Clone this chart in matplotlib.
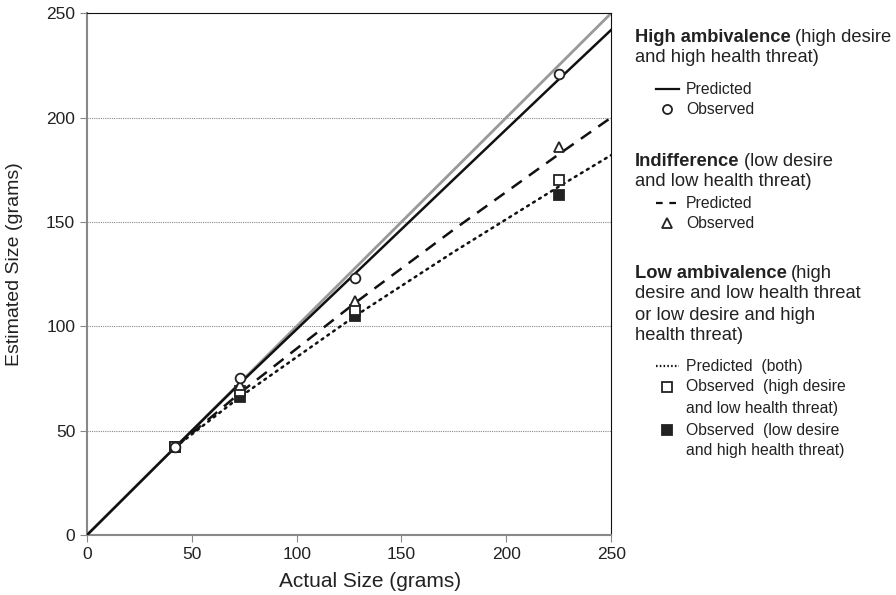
import matplotlib
matplotlib.use("Agg")
import matplotlib.pyplot as plt
from matplotlib.lines import Line2D

plt.rcParams['font.family'] = ['Liberation Sans', 'DejaVu Sans']

# 實際大小 (grams)
actual = [42, 73, 128, 225]
# 觀察值
obs_high_amb = [42, 75, 123, 221]
obs_indiff = [42, 72, 112, 186]
obs_low_hd = [42, 69, 108, 170]
obs_low_ht = [42, 66, 105, 163]
# 預測線 (從圖上讀出的點)
identity_x = [0, 250]
identity_y = [0, 250]
high_amb_x = [0, 42, 73, 128, 175, 225, 250]
high_amb_y = [0, 42, 72.7, 125.4, 170.5, 218.3, 242]
indiff_x = [42, 73, 128, 175, 225, 250]
indiff_y = [42, 68.1, 111.3, 146.4, 182.4, 200]
low_x = [42, 73, 128, 175, 225, 250]
low_y = [42, 66.2, 105, 135.7, 166.9, 182]

ticks = [0, 50, 100, 150, 200, 250]

fig = plt.figure(figsize=(8.96, 5.95), dpi=100)
ax = fig.add_axes([0.0971, 0.1008, 0.585, 0.877])

for y in ticks[1:-1]:
    ax.axhline(y, color='#888888', linestyle=(0, (1, 1)), linewidth=0.8, zorder=1)

ax.plot(identity_x, identity_y, color='#999999', linewidth=2, zorder=2)
ax.plot(high_amb_x, high_amb_y, color='#111111', linewidth=1.8, zorder=3)
ax.plot(indiff_x, indiff_y, color='#111111', linewidth=1.8, linestyle=(0, (5, 3.5)), zorder=3)
ax.plot(low_x, low_y, color='#111111', linewidth=1.8, linestyle=(0, (0.8, 2)),
        dash_capstyle='round', zorder=3)

mk = dict(linestyle='none', markersize=7, markeredgewidth=1.3, zorder=4)
ax.plot(actual, obs_low_ht, marker='s', color='#222222', markerfacecolor='#222222', **mk)
ax.plot(actual, obs_low_hd, marker='s', color='#222222', markerfacecolor='white', **mk)
ax.plot(actual, obs_indiff, marker='^', color='#222222', markerfacecolor='white', **mk)
ax.plot(actual, obs_high_amb, marker='o', color='#222222', markerfacecolor='white', **mk)

ax.set_xlim(0, 250)
ax.set_ylim(0, 250)
ax.set_xticks(ticks)
ax.set_yticks(ticks)
ax.tick_params(labelsize=12.5, direction='out', length=5, color='#888888', labelcolor='#222222')
ax.set_xlabel('Actual Size (grams)', fontsize=15, color='#222222')
ax.set_ylabel('Estimated Size (grams)', fontsize=14, color='#222222')
ax.xaxis.set_label_coords(0.54, -0.071)
ax.yaxis.set_label_coords(-0.122, 0.52)
ax.spines['left'].set_color('#888888')
ax.spines['bottom'].set_color('#888888')
ax.spines['left'].set_linewidth(1.5)
ax.spines['bottom'].set_linewidth(1.5)
ax.spines['top'].set_color('#111111')
ax.spines['right'].set_color('#111111')

# 圖例 (右側文字)
fig.canvas.draw()
renderer = fig.canvas.get_renderer()
W, H = fig.bbox.width, fig.bbox.height
TXT = '#222222'


def heading(x, y, bold, rest, size=13.2):
    t = fig.text(x / W, 1 - y / H, bold, fontsize=size, fontweight='bold', va='center', color=TXT)
    bb = t.get_window_extent(renderer)
    fig.text((bb.x1 + 4) / W, 1 - y / H, rest, fontsize=size, va='center', color=TXT)


def line_text(x, y, s, size=13.2):
    fig.text(x / W, 1 - y / H, s, fontsize=size, va='center', color=TXT)


def item(y, s, handle, size=11.3):
    hx, tx = 667, 686
    if handle[0] == 'line':
        l = Line2D([656 / W, 679 / W], [1 - y / H, 1 - y / H], transform=fig.transFigure,
                   color='#111111', linewidth=1.6, linestyle=handle[1])
        fig.add_artist(l)
    else:
        l = Line2D([hx / W], [1 - y / H], transform=fig.transFigure, marker=handle[1],
                   markersize=6.5, markeredgewidth=1.3, color='#222222', markerfacecolor=handle[2],
                   linestyle='none')
        fig.add_artist(l)
    fig.text(tx / W, 1 - y / H, s, fontsize=size, va='center', color=TXT)


heading(635, 37, 'High ambivalence', '(high desire')
line_text(635, 57, 'and high health threat)')
item(89, 'Predicted', ('line', '-'))
item(109, 'Observed', ('mk', 'o', 'white'))

heading(635, 162, 'Indifference', '(low desire')
line_text(635, 182, 'and low health threat)')
item(203, 'Predicted', ('line', (0, (3, 3))))
item(223, 'Observed', ('mk', '^', 'white'))

heading(635, 274, 'Low ambivalence', '(high')
line_text(635, 294, 'desire and low health threat')
line_text(635, 315, 'or low desire and high')
line_text(635, 335, 'health threat)')
item(366, 'Predicted  (both)', ('line', (0, (0.7, 1))))
item(387, 'Observed  (high desire', ('mk', 's', 'white'))
line_text(686, 408, 'and low health threat)', size=11.3)
item(430, 'Observed  (low desire', ('mk', 's', '#222222'))
line_text(686, 451, 'and high health threat)', size=11.3)

fig.savefig('out.png', dpi=100)
